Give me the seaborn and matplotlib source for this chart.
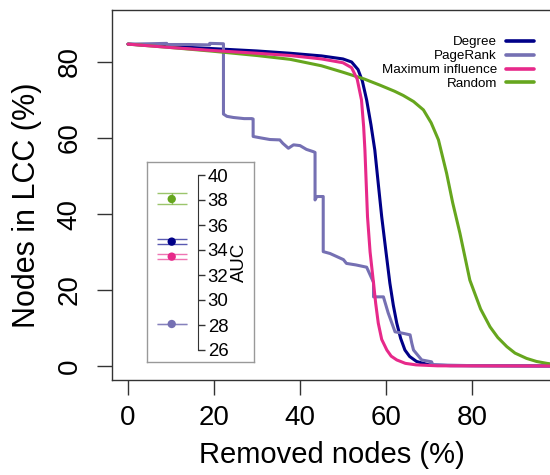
import numpy as np
import pandas as pd
import matplotlib
matplotlib.use("Agg")
import matplotlib.pyplot as plt
import seaborn as sns

# ---------------- data ----------------
methods = ["Degree", "PageRank", "Maximum influence", "Random"]
colors = {"Degree": "#000088", "PageRank": "#7570B3",
          "Maximum influence": "#E7298A", "Random": "#66A61E"}

deg_x = [0, 10, 20, 30, 37.7, 45, 50, 52, 53.5, 54.5, 55.5, 56.5, 57.4, 58.2, 59.0,
         60.0, 60.9, 61.7, 62.5, 63.4, 64.4, 65.5, 67.1, 70, 75, 100]
deg_y = [84.7, 84.1, 83.5, 82.9, 82.3, 81.6, 80.8, 80.0, 78.0, 75.0, 70.0, 63.5, 56.8,
         48.0, 39.3, 30.0, 21.8, 16.0, 11.3, 7.3, 4.2, 2.5, 1.2, 0.3, 0.1, 0]

pr_x = [0, 5, 9, 9, 14, 19, 19, 22.2, 22.2, 23, 24.5, 27, 28.8, 29.1, 29.1, 31, 33, 35.3,
        36, 37.3, 38.5, 40, 41.5, 43.1, 43.5, 43.5, 43.9, 45.4, 45.4, 47, 50.1, 50.8, 53,
        55.5, 56.3, 57.1, 57.1, 59.4, 60.5, 62.1, 64, 65.6, 66.0, 66.4, 68.3, 70.6, 70.9, 80, 100]
pr_y = [84.7, 84.8, 84.9, 84.6, 84.6, 84.5, 84.9, 84.8, 66.3, 65.7, 65.4, 65.1, 65.1, 65.0,
        60.4, 60.0, 59.6, 59.5, 58.6, 57.3, 58.2, 58.0, 57.0, 56.4, 56.2, 43.7, 44.6, 44.6,
        30.1, 29.6, 28.0, 27.0, 26.6, 26.0, 24.0, 22.0, 18.2, 18.2, 14.0, 9.0, 8.6, 8.2,
        6.0, 4.2, 1.6, 1.1, 0.3, 0.1, 0]

mi_x = [0, 10, 20, 30, 37.7, 45, 50, 52, 53.3, 54.3, 54.8, 55.1, 55.4, 55.7, 56.3, 57.1,
        57.6, 58.2, 59.0, 60.2, 61.2, 62.5, 64.5, 67, 72, 100]
mi_y = [84.7, 83.8, 83.0, 82.3, 81.7, 80.8, 79.8, 78.5, 75.5, 70.0, 63.0, 56.8, 48.0,
        39.3, 30.0, 21.8, 16.5, 11.3, 7.0, 4.2, 2.6, 1.6, 0.7, 0.3, 0.05, 0]

rnd_x = [0, 10, 20, 30, 37.7, 45, 50, 55, 58.6, 62, 64, 66.4, 68.7, 70.5, 72.2, 74.1,
         75.5, 77.2, 79.5, 82, 84.2, 86, 88.1, 90, 92.7, 95, 97.4, 100]
rnd_y = [84.7, 83.8, 82.8, 81.7, 80.7, 79.0, 77.3, 75.5, 73.9, 72.3, 71.2, 69.6, 67.4,
         64.0, 59.5, 50.7, 43.0, 34.9, 22.6, 15.0, 10.3, 7.5, 5.1, 3.4, 2.0, 1.2, 0.7, 0.3]

auc_mean = [34.67, 28.08, 33.47, 38.08]
auc_low = [34.46, 28.08, 33.28, 37.72]
auc_high = [34.86, 28.08, 33.65, 38.55]

x_ticks = [0, 20, 40, 60, 80]
y_ticks = [0, 20, 40, 60, 80]
auc_ticks = [26, 28, 30, 32, 34, 36, 38, 40]

curves = {"Degree": (deg_x, deg_y), "PageRank": (pr_x, pr_y),
          "Maximum influence": (mi_x, mi_y), "Random": (rnd_x, rnd_y)}

# ---------------- style ----------------
sns.set_style("ticks")
plt.rcParams["font.family"] = ["Liberation Sans", "DejaVu Sans"]
plt.rcParams["text.color"] = "black"
plt.rcParams["axes.labelcolor"] = "black"
plt.rcParams["xtick.color"] = "black"
plt.rcParams["ytick.color"] = "black"

W, H = 550, 475
fig = plt.figure(figsize=(W / 100, H / 100), dpi=100)

def fig_rect(x0, y0, x1, y1):
    return [x0 / W, 1 - y1 / H, (x1 - x0) / W, (y1 - y0) / H]

ax = fig.add_axes(fig_rect(111.7, 10, 550, 380))

draw_order = ["Degree", "PageRank", "Random", "Maximum influence"]
handles = {}
for i, m in enumerate(draw_order):
    xs, ys = curves[m]
    df = pd.DataFrame({"x": xs, "y": ys, "method": m})
    n0 = len(ax.lines)
    sns.lineplot(data=df, x="x", y="y", color=colors[m], sort=False, estimator=None,
                 lw=2.2, ax=ax, label=m, legend=False)
    line = ax.lines[n0]
    line.set_zorder(2 + i)
    line.set_solid_joinstyle("round")
    handles[m] = line

ax.set_xlim(-3.79, 98.14)
ax.set_ylim(-3.68, 93.68)
ax.set_xticks(x_ticks)
ax.set_yticks(y_ticks)
ax.set_xticklabels([str(v) for v in x_ticks], fontsize=20)
ax.set_yticklabels([str(v) for v in y_ticks], fontsize=20, rotation=90, va="center")
ax.tick_params(axis="both", direction="out", length=11, width=1, color="#333333")
ax.tick_params(axis="x", pad=7)
ax.tick_params(axis="y", pad=10)
for s in ["left", "top", "bottom"]:
    ax.spines[s].set_color("#333333")
    ax.spines[s].set_linewidth(1)
ax.spines["right"].set_visible(False)
ax.set_xlabel("Removed nodes (%)", fontsize=21)
ax.set_ylabel("Nodes in LCC (%)", fontsize=22)
ax.xaxis.label.set_va("center")
ax.yaxis.label.set_va("center")
ax.xaxis.set_label_coords(0.503, (380 - 455) / 370)
ax.yaxis.set_label_coords((27 - 111.7) / 438.3, 0.473)

leg = ax.legend([handles[m] for m in methods], methods, loc="upper right",
                frameon=False, markerfirst=False, fontsize=9.6, handlelength=2.1,
                handletextpad=0.7, labelspacing=0.12, borderaxespad=0.3,
                bbox_to_anchor=(0.985, 0.955))
for lh in leg.get_lines():
    lh.set_linewidth(2.6)

# ---------------- inset (AUC) ----------------
ia = fig.add_axes(fig_rect(147, 162, 254, 362))
ia.set_facecolor("white")
ia.set_zorder(10)
ia.set_xlim(0, 1)
ia.set_ylim(25.04, 41.04)
ia.set_xticks([])
ia.set_yticks([])
for s in ia.spines.values():
    s.set_color("#999999")
    s.set_linewidth(1)

px = 0.231
auc_df = pd.DataFrame({"x": [px] * 4, "auc": auc_mean, "method": methods})
for m, lo, hi, mu in zip(methods, auc_low, auc_high, auc_mean):
    ia.errorbar([px], [mu], yerr=[[mu - lo], [hi - mu]], fmt="none",
                ecolor=colors[m], alpha=0.65, elinewidth=1, capsize=10.8,
                capthick=1)
sns.scatterplot(data=auc_df, x="x", y="auc", hue="method", palette=colors,
                s=36, edgecolor="none", ax=ia, legend=False, zorder=5)
ia.set_xlabel("")
ia.set_ylabel("")

aa = fig.add_axes(fig_rect(147, 162, 254, 362))
aa.patch.set_visible(False)
aa.set_zorder(11)
aa.set_xlim(0, 1)
aa.set_ylim(25.04, 41.04)
aa.set_xticks([])
for s in ["left", "top", "bottom"]:
    aa.spines[s].set_visible(False)
aa.spines["right"].set_position(("axes", (198 - 147) / 107))
aa.spines["right"].set_bounds(26, 40)
aa.spines["right"].set_color("#333333")
aa.yaxis.tick_right()
aa.set_yticks(auc_ticks)
aa.set_yticklabels([str(v) for v in auc_ticks], fontsize=13.4)
aa.tick_params(axis="y", direction="out", length=5, width=1, pad=2, color="#333333")
aa.yaxis.set_label_position("right")
aa.set_ylabel("AUC", fontsize=13.4, labelpad=2)

fig.savefig("out.png", dpi=100)
